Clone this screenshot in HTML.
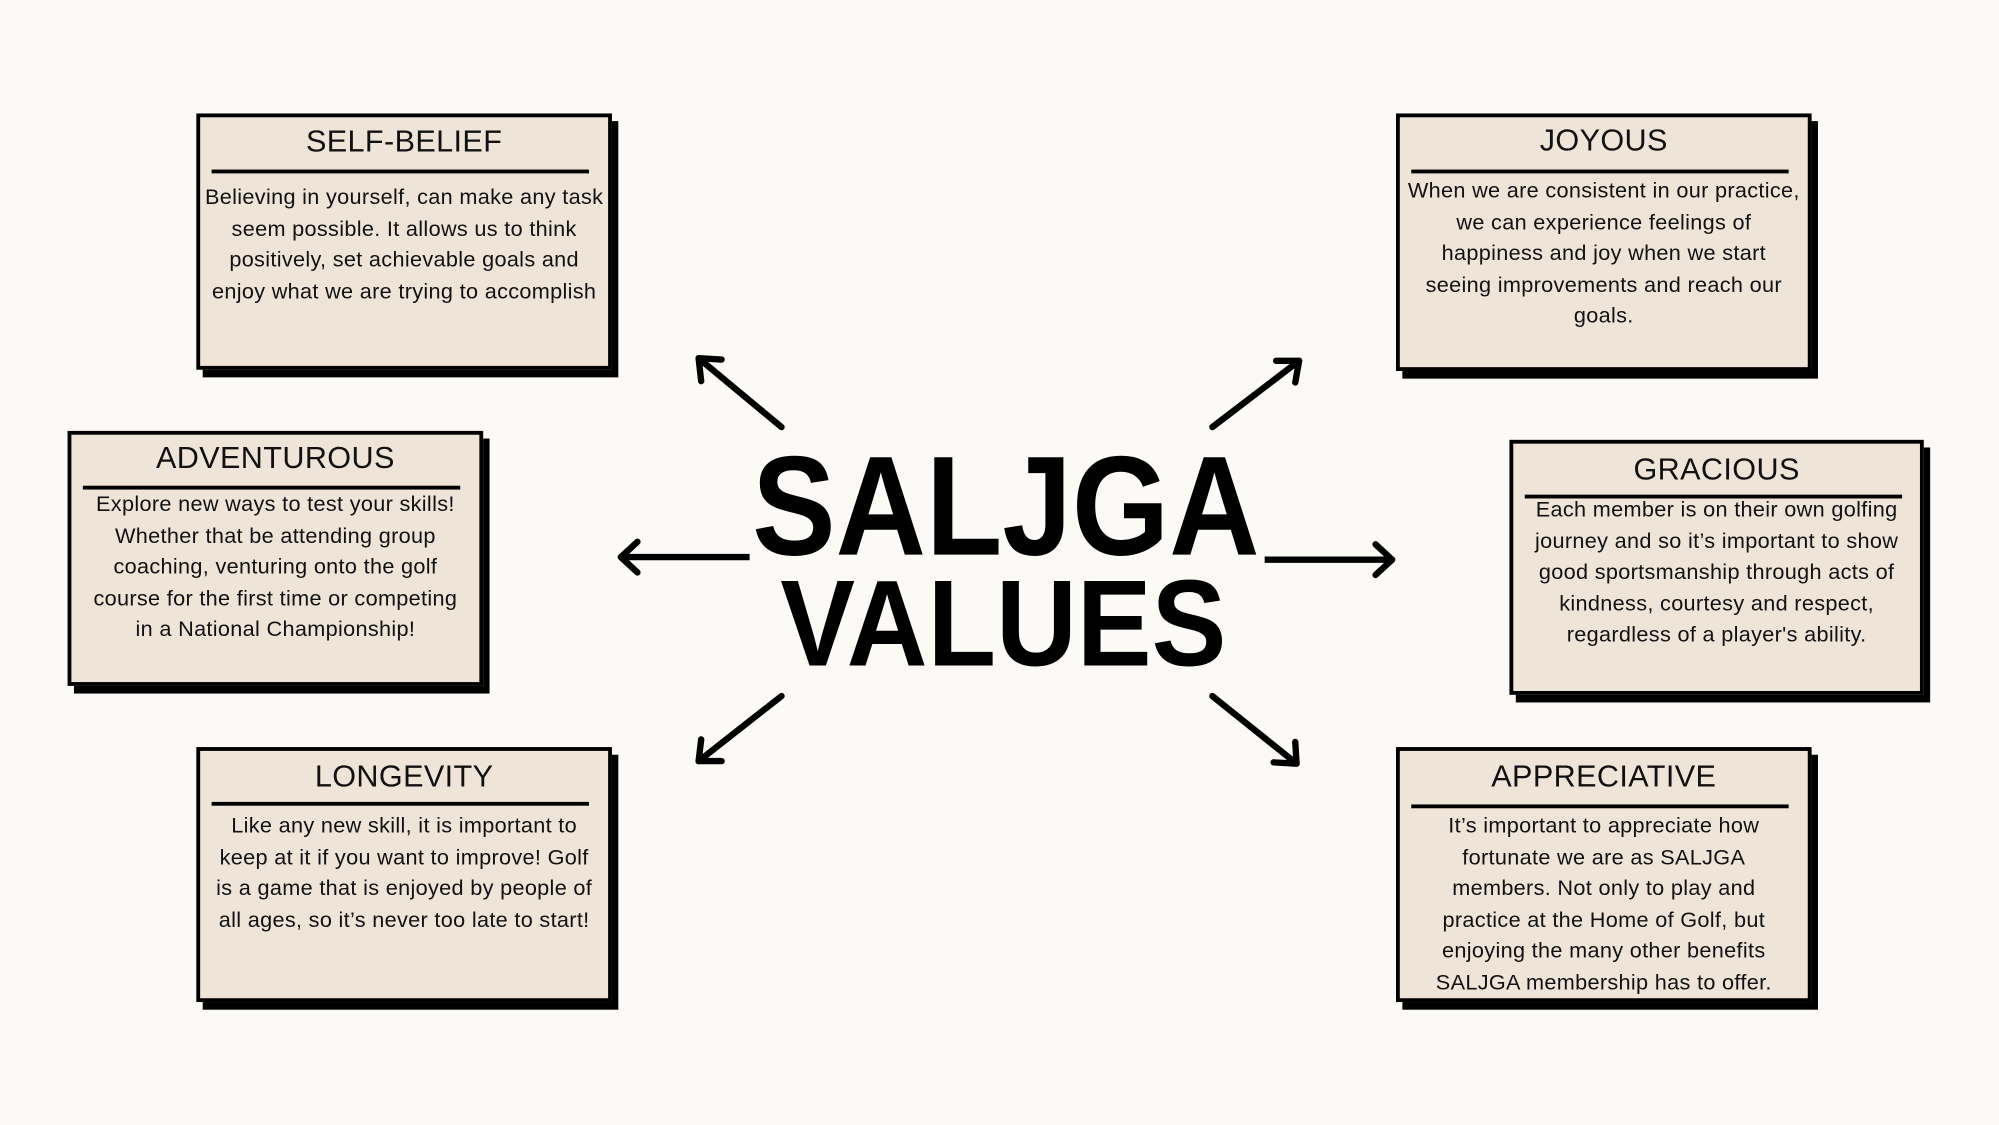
<!DOCTYPE html>
<html><head><meta charset="utf-8"><style>
html,body{margin:0;padding:0;background:#fcfaf7;}
body{width:1999px;height:1125px;overflow:hidden;position:relative;}
#w{position:absolute;left:0;top:0;width:1568px;height:882px;transform:scale(1.27487);transform-origin:0 0;font-family:"Liberation Sans",Arial,sans-serif;color:#111;}
.b{position:absolute;box-sizing:border-box;border:3px solid #000;background:#efe4d8;box-shadow:5px 6px 0 #000;}
.t{position:absolute;left:0;right:0;text-align:center;font-size:24px;line-height:24px;letter-spacing:0.3px;}
.l{position:absolute;left:9px;width:296px;height:3px;background:#000;}
.p{position:absolute;left:-20px;right:-20px;text-align:center;font-size:17px;letter-spacing:0.25px;line-height:24.5px;white-space:nowrap;}
</style></head><body><div id="w">

<div class="b" style="left:154px;top:89px;width:326px;height:201px">
 <div class="t" style="top:8px">SELF-BELIEF</div><div class="l" style="top:41px"></div>
 <div class="p" style="top:51px">Believing in yourself, can make any task<br>seem possible. It allows us to think<br>positively, set achievable goals and<br>enjoy what we are trying to accomplish</div>
</div>

<div class="b" style="left:1095px;top:89px;width:326px;height:202px">
 <div class="t" style="top:7px">JOYOUS</div><div class="l" style="top:41px"></div>
 <div class="p" style="top:46px">When we are consistent in our practice,<br>we can experience feelings of<br>happiness and joy when we start<br>seeing improvements and reach our<br>goals.</div>
</div>

<div class="b" style="left:53px;top:338px;width:326px;height:200px">
 <div class="t" style="top:7px">ADVENTUROUS</div><div class="l" style="top:40px"></div>
 <div class="p" style="top:43px">Explore new ways to test your skills!<br>Whether that be attending group<br>coaching, venturing onto the golf<br>course for the first time or competing<br>in a National Championship!</div>
</div>

<div class="b" style="left:1184px;top:345px;width:325px;height:200px">
 <div class="t" style="top:9px">GRACIOUS</div><div class="l" style="top:40px"></div>
 <div class="p" style="top:40px">Each member is on their own golfing<br>journey and so it’s important to show<br>good sportsmanship through acts of<br>kindness, courtesy and respect,<br>regardless of a player's ability.</div>
</div>

<div class="b" style="left:154px;top:586px;width:326px;height:200px">
 <div class="t" style="top:9px">LONGEVITY</div><div class="l" style="top:40px"></div>
 <div class="p" style="top:47px">Like any new skill, it is important to<br>keep at it if you want to improve! Golf<br>is a game that is enjoyed by people of<br>all ages, so it’s never too late to start!</div>
</div>

<div class="b" style="left:1095px;top:586px;width:326px;height:200px">
 <div class="t" style="top:9px">APPRECIATIVE</div><div class="l" style="top:42px"></div>
 <div class="p" style="top:47px">It’s important to appreciate how<br>fortunate we are as SALJGA<br>members. Not only to play and<br>practice at the Home of Golf, but<br>enjoying the many other benefits<br>SALJGA membership has to offer.</div>
</div>

<svg style="position:absolute;left:0;top:0" width="1568" height="882" viewBox="0 0 1568 882">
 <g stroke="#000" stroke-width="5" stroke-linecap="round" stroke-linejoin="round" fill="none">
  <line x1="613" y1="335" x2="548" y2="281"/><polyline points="550,299 548,281 566,282"/>
  <line x1="951" y1="335" x2="1019" y2="283"/><polyline points="1001,283 1019,283 1016,300"/>
  <line x1="487" y1="437" x2="588" y2="437" stroke-linecap="butt"/><polyline points="500,425 487,437 500,449"/>
  <line x1="992" y1="439" x2="1092" y2="439" stroke-linecap="butt"/><polyline points="1079,427 1092,439 1079,451"/>
  <line x1="613" y1="546" x2="548" y2="597"/><polyline points="550,580 548,597 566,597"/>
  <line x1="951" y1="546" x2="1017" y2="599"/><polyline points="1016,582 1017,599 999,598"/>
 </g>
 <text x="590" y="435" textLength="398" lengthAdjust="spacingAndGlyphs" font-family="Liberation Sans, Arial, sans-serif" font-weight="bold" font-size="111" fill="#000">SALJGA</text>
 <text x="612" y="522" textLength="350" lengthAdjust="spacingAndGlyphs" font-family="Liberation Sans, Arial, sans-serif" font-weight="bold" font-size="96" fill="#000">VALUES</text>
</svg>
</div></body></html>
